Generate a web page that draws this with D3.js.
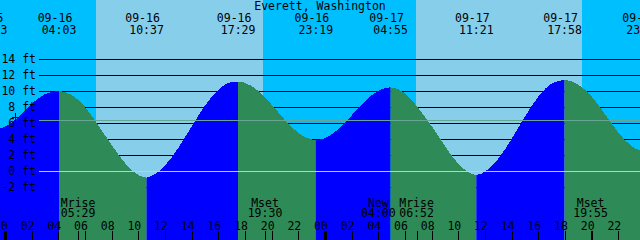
<!DOCTYPE html>
<html>
<head>
<meta charset="utf-8">
<script src="https://cdn.jsdelivr.net/npm/d3@7.9.0/dist/d3.min.js"></script>
<style>
  body { margin: 0; background: #fff; }
  text { font-family: "DejaVu Sans Mono", monospace; font-size: 11.5px; fill: #000; }
</style>
</head>
<body>
<div id="chart"></div>
<script>
// tide extremes
const eventDates = ["09-15", "09-16", "09-16", "09-16", "09-16", "09-17", "09-17", "09-17", "09-17"];
const eventTimes = ["22:53", "04:03", "10:37", "17:29", "23:19", "04:55", "11:21", "17:58", "23:54"];
const eventKinds = ["low", "high", "low", "high", "low", "high", "low", "high", "low"];

// curve (hours after 09-16 00:00, feet)
const curveHours = [-1.13, -0.5, 0, 1, 2, 3, 4.05, 5, 6, 7, 8, 9, 10, 10.62, 11, 12, 13, 14, 15, 16, 17, 17.48,
  18, 19, 20, 21, 22, 23, 23.32, 24, 25, 26, 27, 28, 28.92, 30, 31, 32, 33, 34, 35, 35.35,
  36, 37, 38, 39, 40, 41, 41.97, 43, 44, 45, 46, 47, 47.9, 48.5];
const curveFeet = [4.9, 5.25, 5.55, 6.7, 8.4, 9.6, 10.0, 9.5, 8.0, 5.7, 3.25, 1.0, -0.5, -0.83, -0.62, 0.68, 2.89, 5.58, 8.18, 10.16, 11.11, 11.16,
  11.02, 10.01, 8.29, 6.36, 4.76, 3.93, 3.88, 4.11, 5.23, 6.95, 8.73, 10.03, 10.46, 9.71, 7.87, 5.6, 3.1, 0.9, -0.35, -0.5,
  -0.08, 1.54, 4.02, 6.81, 9.29, 10.93, 11.38, 10.8, 9.3, 7.1, 4.8, 3.1, 2.5, 2.6];

// sun and moon
const sunriseTimes = ["09-16 06:50", "09-17 06:48"];
const sunsetTimes = ["09-16 19:20", "09-17 19:18"];
const moonNames = ["Mrise", "Mset", "New", "Mrise", "Mset"];
const moonDates = ["09-16", "09-16", "09-17", "09-17", "09-17"];
const moonTimes = ["05:29", "19:30", "04:00", "06:52", "19:55"];

const depthLevels = [-2, 0, 2, 4, 6, 8, 10, 12, 14];
const meanSeaLevel = 6.34;
const datumLevel = 0;
const nowMark = [0.75, 6.75];

const title = "Everett, Washington";

function toHours(day, time) {
    const dd = +day.split("-")[1];
    const [hh, mm] = time.split(":").map(Number);
    return (dd - 16) * 24 + hh + mm / 60;
}

const width = 640, height = 240;

const x = d3.scaleLinear().domain([0, 48]).range([5, 645]);
const y = d3.scaleLinear().domain([0, 14]).range([171, 59]);

const svg = d3.select("#chart").append("svg")
    .attr("width", width)
    .attr("height", height);

// sky: night / day bands
const sunEdges = [-2, toHours(...sunriseTimes[0].split(" ")), toHours(...sunsetTimes[0].split(" ")),
    toHours(...sunriseTimes[1].split(" ")), toHours(...sunsetTimes[1].split(" ")), 50];
svg.append("g").selectAll("rect")
    .data(d3.pairs(sunEdges))
    .join("rect")
    .attr("x", d => x(d[0]))
    .attr("y", 0)
    .attr("width", d => x(d[1]) - x(d[0]))
    .attr("height", height)
    .attr("fill", (d, i) => i % 2 === 0 ? "#00bfff" : "#87ceeb")
    .attr("shape-rendering", "crispEdges");

// depth lines (under the water)
svg.append("g").selectAll("line")
    .data(depthLevels.filter(d => d !== datumLevel))
    .join("line")
    .attr("x1", 39).attr("x2", width)
    .attr("y1", d => Math.round(y(d)) + 0.5)
    .attr("y2", d => Math.round(y(d)) + 0.5)
    .attr("stroke", "#000")
    .attr("shape-rendering", "crispEdges");

// water, split into rising / falling parts
const curve = curveHours.map((h, i) => [h, curveFeet[i]]);
const area = d3.area()
    .x(d => x(d[0]))
    .y0(height)
    .y1(d => y(d[1]))
    .curve(d3.curveMonotoneX);

const eventHours = eventDates.map((d, i) => toHours(d, eventTimes[i]));
const segEdges = eventHours.concat([50]);
const defs = svg.append("defs");
d3.pairs(segEdges).forEach((p, i) => {
    defs.append("clipPath").attr("id", "seg" + i)
        .append("rect")
        .attr("x", x(p[0]))
        .attr("y", 0)
        .attr("width", x(p[1]) - x(p[0]))
        .attr("height", height);
    svg.append("path")
        .datum(curve)
        .attr("clip-path", `url(#seg${i})`)
        .attr("d", area)
        .attr("fill", eventKinds[i] === "low" ? "#0000ff" : "#2e8b57")
        .attr("shape-rendering", "crispEdges");
});

// datum and mean sea level
svg.append("line")
    .attr("x1", 39).attr("x2", width)
    .attr("y1", Math.round(y(datumLevel)) + 0.5)
    .attr("y2", Math.round(y(datumLevel)) + 0.5)
    .attr("stroke", "#a6d6ea")
    .attr("shape-rendering", "crispEdges");
svg.append("line")
    .attr("x1", 39).attr("x2", width)
    .attr("y1", Math.round(y(meanSeaLevel)) + 0.5)
    .attr("y2", Math.round(y(meanSeaLevel)) + 0.5)
    .attr("stroke", "#66a593")
    .attr("shape-rendering", "crispEdges");

// depth labels
svg.append("g").selectAll("text")
    .data(depthLevels)
    .join("text")
    .attr("x", 36)
    .attr("y", d => y(d) + 4)
    .attr("text-anchor", "end")
    .text(d => d + " ft");

// small mark
const mx = Math.round(x(nowMark[0])) + 0.5, my = Math.round(y(nowMark[1])) + 0.5;
svg.append("path")
    .attr("d", `M${mx},${my - 5}V${my + 4}M${mx - 4},${my}H${mx + 3}`)
    .attr("stroke", "#000")
    .attr("fill", "none")
    .attr("shape-rendering", "crispEdges");

// title
svg.append("text")
    .attr("x", width / 2)
    .attr("y", 10)
    .attr("text-anchor", "middle")
    .text(title);

// tide event labels
const topLabels = svg.append("g");
eventHours.forEach((h, i) => {
    topLabels.append("text")
        .attr("x", x(h) - 4)
        .attr("y", 21.5)
        .attr("text-anchor", "middle")
        .text(eventDates[i]);
    topLabels.append("text")
        .attr("x", x(h))
        .attr("y", 34)
        .attr("text-anchor", "middle")
        .text(eventTimes[i]);
});

// hour ticks and labels
const hourTicks = d3.range(0, 48, 2);
const bottom = svg.append("g");
bottom.selectAll("line.hour")
    .data(hourTicks)
    .join("line")
    .attr("class", "hour")
    .attr("x1", d => Math.round(x(d)) + 0.5)
    .attr("x2", d => Math.round(x(d)) + 0.5)
    .attr("y1", 231).attr("y2", height)
    .attr("stroke", "#000")
    .attr("stroke-width", d => d % 24 === 0 ? 3 : 1)
    .attr("shape-rendering", "crispEdges");
bottom.selectAll("text.hour")
    .data(hourTicks)
    .join("text")
    .attr("class", "hour")
    .attr("x", d => x(d) - 4)
    .attr("y", 229.5)
    .attr("text-anchor", "middle")
    .text(d => d3.format("02d")(d % 24));

// moon events
const moonHours = moonDates.map((d, i) => toHours(d, moonTimes[i]));
bottom.selectAll("line.moon")
    .data(moonHours)
    .join("line")
    .attr("class", "moon")
    .attr("x1", d => Math.round(x(d)) + 0.5)
    .attr("x2", d => Math.round(x(d)) + 0.5)
    .attr("y1", 231).attr("y2", height)
    .attr("stroke", "#000")
    .attr("shape-rendering", "crispEdges");
moonHours.forEach((h, i) => {
    bottom.append("text")
        .attr("x", x(h))
        .attr("y", 206.5)
        .attr("text-anchor", "middle")
        .text(moonNames[i]);
    bottom.append("text")
        .attr("x", x(h))
        .attr("y", 217)
        .attr("text-anchor", "middle")
        .text(moonTimes[i]);
});
</script>
</body>
</html>
